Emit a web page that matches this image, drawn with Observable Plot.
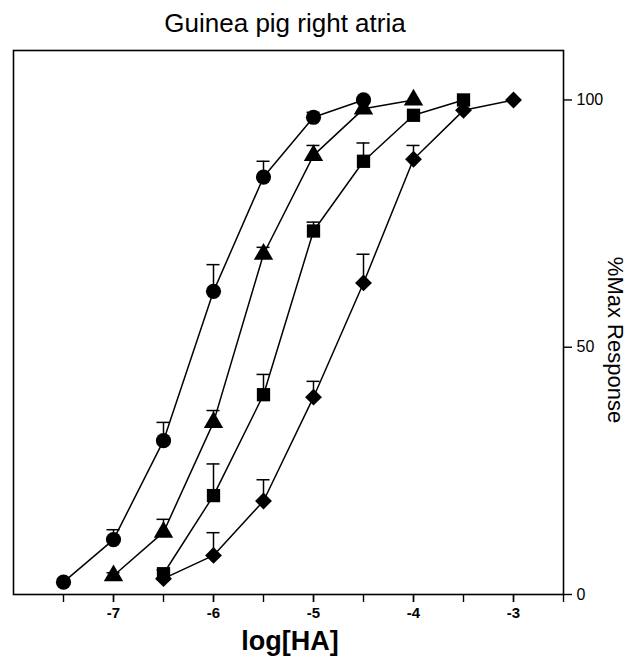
<!DOCTYPE html>
<html>
<head>
<meta charset="utf-8">
<script src="https://cdn.jsdelivr.net/npm/d3@7"></script>
<script src="https://cdn.jsdelivr.net/npm/@observablehq/plot@0.6"></script>
<style>
  html, body { margin: 0; padding: 0; background: white; }
  #wrap { position: relative; width: 629px; height: 664px; overflow: hidden; font-family: "Liberation Sans", Arial, sans-serif; color: black; }
  #wrap svg { position: absolute; left: 0; top: 0; }
  .lbl { position: absolute; white-space: nowrap; line-height: 1; }
  #title { left: 285px; top: 10px; transform: translateX(-50%); font-size: 26px; }
  #xlab { left: 290px; top: 628px; transform: translateX(-50%); font-size: 27px; font-weight: bold; }
  #ylab { left: 615px; top: 340px; transform: translate(-50%, -50%) rotate(90deg); font-size: 22px; }
</style>
</head>
<body>
<div id="wrap">
  <div id="chart"></div>
  <div class="lbl" id="title">Guinea pig right atria</div>
  <div class="lbl" id="xlab">log[HA]</div>
  <div class="lbl" id="ylab">%Max Response</div>
</div>
<script>
// Circles
const xCircle = [-7.5, -7, -6.5, -6, -5.5, -5, -4.5];
const yCircle = [2.5, 11.1, 31.1, 61.3, 84.4, 96.5, 100];
const eCircle = [0, 2.0, 3.7, 5.4, 3.2, 1.0, 0];
// Triangles
const xTriangle = [-7, -6.5, -6, -5.5, -5, -4.5, -4];
const yTriangle = [3.8, 12.6, 34.8, 68.8, 88.8, 98.2, 100];
const eTriangle = [0.6, 2.6, 2.4, 1.4, 2.0, 0, 0];
// Squares
const xSquare = [-6.5, -6, -5.5, -5, -4.5, -4, -3.5];
const ySquare = [4.2, 20, 40.4, 73.5, 87.6, 96.9, 100];
const eSquare = [0.8, 6.4, 4.1, 1.8, 3.7, 0, 0];
// Diamonds
const xDiamond = [-6.5, -6, -5.5, -5, -4.5, -4, -3.5, -3];
const yDiamond = [3.2, 7.9, 18.9, 39.9, 63, 88, 97.9, 100];
const eDiamond = [0, 4.6, 4.3, 3.2, 5.8, 2.8, 0, 0];

const xTickLabels = [-7, -6, -5, -4, -3];
const xMinorTicks = [-7.5, -7, -6.5, -6, -5.5, -5, -4.5, -4, -3.5, -3, -2.5];
const yTickLabels = [0, 50, 100];

const seriesDefs = [
  {name: "circle", xs: xCircle, ys: yCircle, es: eCircle, symbol: "circle", r: 7.6},
  {name: "triangle", xs: xTriangle, ys: yTriangle, es: eTriangle, symbol: "triangle", r: 7.2},
  {name: "square", xs: xSquare, ys: ySquare, es: eSquare, symbol: "square", r: 7.5},
  {name: "diamond", xs: xDiamond, ys: yDiamond, es: eDiamond, symbol: "diamond2", r: 7.6}
];
const rows = seriesDefs.flatMap(s => s.xs.map((x, i) => ({series: s.name, x, y: s.ys[i], e: s.es[i]})));
const errRows = rows.filter(d => d.e > 0);
const capHalf = 0.065;

const chart = Plot.plot({
  width: 629,
  height: 664,
  marginLeft: 13,
  marginRight: 66,
  marginTop: 50,
  marginBottom: 70,
  x: {domain: [-8, -2.5]},
  y: {domain: [0, 110]},
  style: {fontFamily: "'Liberation Sans', Arial, sans-serif", background: "white", color: "black"},
  marks: [
    Plot.frame({stroke: "black", strokeWidth: 1.6}),
    Plot.axisX({ticks: xMinorTicks, tickSize: 8, tickFormat: () => "", label: null, strokeWidth: 1.4}),
    Plot.axisX({ticks: xTickLabels, tickSize: 8, tickPadding: 5, tickFormat: d => String(d), label: null, fontSize: 15, fontWeight: "bold", strokeWidth: 1.4}),
    Plot.axisY({anchor: "right", ticks: yTickLabels, tickSize: 8, tickPadding: 5, tickFormat: d => String(d), label: null, fontSize: 16, strokeWidth: 1.4}),
    Plot.line(rows, {x: "x", y: "y", z: "series", stroke: "black", strokeWidth: 1.5}),
    Plot.ruleX(errRows, {x: "x", y1: "y", y2: d => d.y + d.e, stroke: "black", strokeWidth: 1.5}),
    Plot.ruleY(errRows, {y: d => d.y + d.e, x1: d => d.x - capHalf, x2: d => d.x + capHalf, stroke: "black", strokeWidth: 1.5}),
    ...seriesDefs.map(s => Plot.dot(rows.filter(d => d.series === s.name), {x: "x", y: "y", symbol: () => s.symbol, r: s.r, fill: "black", stroke: "none"}))
  ]
});
document.getElementById("chart").appendChild(chart);
</script>
</body>
</html>
